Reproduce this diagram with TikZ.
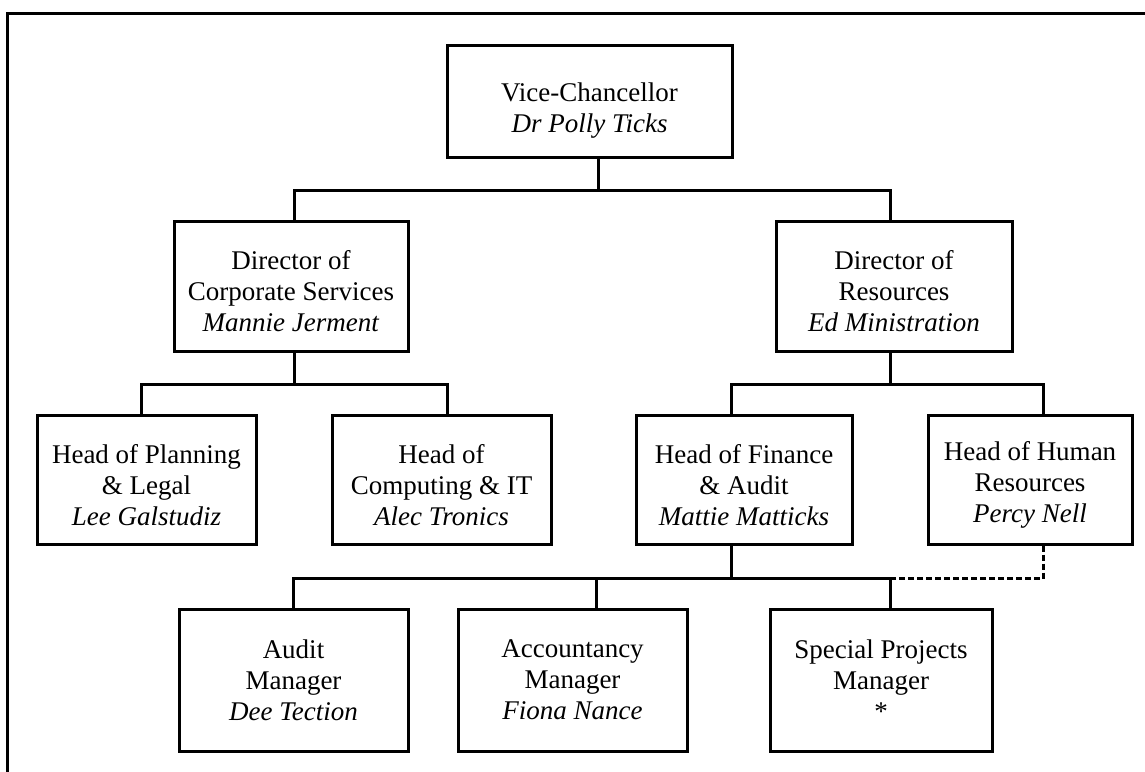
\documentclass[tikz,border=0pt]{standalone}
\usepackage{fontspec}
\setmainfont{Liberation Serif}
\newcommand\dnstrut[1]{\rule{0pt}{#1}}
\begin{document}
\begin{tikzpicture}[x=1pt,y=-1pt,line width=3pt,
  box/.style={draw,rectangle,inner sep=0pt,align=center,font=\fontsize{27}{31}\selectfont},
  conn/.style={line width=3pt},
  dotconn/.style={line width=3pt,dash pattern=on 6pt off 3pt}]
\useasboundingbox (0,0) rectangle (1145,771);
\draw (7,775) -- (7,13) -- (1150,13);
% boxes
\node[box,minimum width=285pt,minimum height=112pt] (vc) at (589.5,101) {\dnstrut{37pt}Vice-Chancellor\\\textit{Dr Polly Ticks}};
\node[box,minimum width=234pt,minimum height=130pt] (dcs) at (291,286) {\dnstrut{29pt}Director of\\Corporate Services\\\textit{Mannie Jerment}};
\node[box,minimum width=236pt,minimum height=130pt] (dr) at (894,286) {\dnstrut{29pt}Director of\\Resources\\\textit{Ed Ministration}};
\node[box,minimum width=219pt,minimum height=129pt] (hpl) at (146.5,479.5) {\dnstrut{30pt}Head of Planning\\\& Legal\\\textit{Lee Galstudiz}};
\node[box,minimum width=219pt,minimum height=129pt] (hcit) at (441.5,479.5) {\dnstrut{30pt}Head of\\Computing \& IT\\\textit{Alec Tronics}};
\node[box,minimum width=216pt,minimum height=129pt] (hfa) at (744,479.5) {\dnstrut{30pt}Head of Finance\\\& Audit\\\textit{Mattie Matticks}};
\node[box,minimum width=204pt,minimum height=129pt] (hhr) at (1030,479.5) {\dnstrut{30pt}Head of Human\\Resources\\\textit{Percy Nell}};
\node[box,minimum width=229pt,minimum height=142pt] (am) at (293.5,680) {Audit\\Manager\\\textit{Dee Tection}};
\node[box,minimum width=229pt,minimum height=142pt] (acm) at (572.5,680) {Accountancy\\Manager\\\textit{Fiona Nance}};
\node[box,minimum width=222pt,minimum height=142pt] (spm) at (881,680) {Special Projects\\Manager\\*};
% stem points
\path (vc.south) ++(8.5,0) coordinate (vcB);
\path (dcs.north) ++(3,0) coordinate (dcsT);
\path (dcs.south) ++(3,0) coordinate (dcsB);
\path (dr.north) ++(-4,0) coordinate (drT);
\path (dr.south) ++(-4,0) coordinate (drB);
\path (hpl.north) ++(-5.5,0) coordinate (hplT);
\path (hcit.north) ++(5.5,0) coordinate (hcitT);
\path (hfa.north) ++(-13,0) coordinate (hfaT);
\path (hfa.south) ++(-13,0) coordinate (hfaB);
\path (hhr.north) ++(13,0) coordinate (hhrT);
\path (hhr.south) ++(13,0) coordinate (hhrB);
\path (am.north) ++(-0.5,0) coordinate (amT);
\path (acm.north) ++(23.5,0) coordinate (acmT);
\path (spm.north) ++(9,0) coordinate (spmT);
% connectors
\draw[conn] (vcB) -- ++(0,32) coordinate (j1);
\draw[conn] (dcsT) |- (j1) -| (drT);
\draw[conn] (dcsB) -- ++(0,32) coordinate (j2);
\draw[conn] (hplT) |- (j2) -| (hcitT);
\draw[conn] (drB) -- ++(0,32) coordinate (j3);
\draw[conn] (hfaT) |- (j3) -| (hhrT);
\draw[conn] (hfaB) -- ++(0,33) coordinate (j4);
\draw[conn] (amT) |- (j4) -| (spmT);
\draw[conn] (acmT) -- (acmT |- j4);
\draw[dotconn] (hhrB) |- (spmT |- j4);
\end{tikzpicture}
\end{document}
